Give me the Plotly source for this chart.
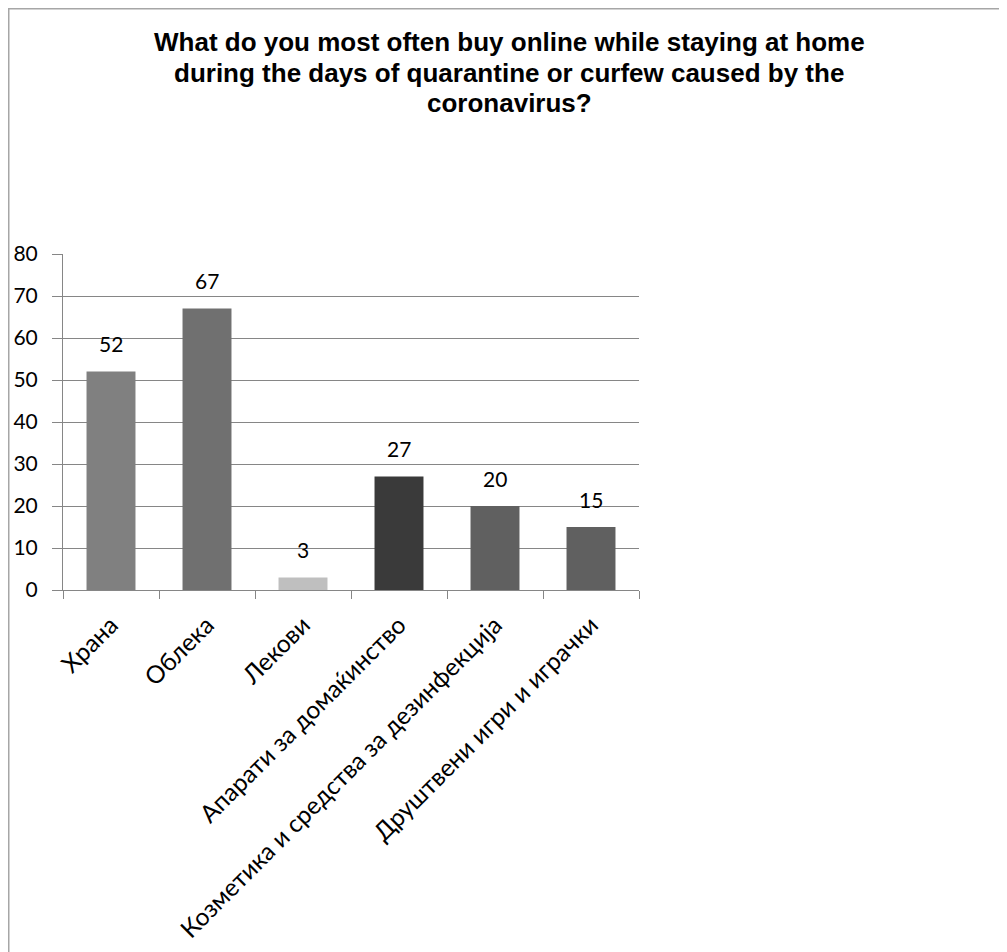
import plotly.graph_objects as go

categories = ["Храна", "Облека", "Лекови", "Апарати за домаќинство",
              "Козметика и средства за дезинфекција", "Друштвени игри и играчки"]
values = [52, 67, 3, 27, 20, 15]
bar_colors = ["#808080", "#707070", "#bfbfbf", "#3a3a3a", "#606060", "#606060"]
y_ticks = [0, 10, 20, 30, 40, 50, 60, 70, 80]

title_lines = ["What do you most often buy online while staying at home",
               "during the days of quarantine or curfew caused by the",
               "coronavirus?"]

OFF = 8  # page body margin
W, H = 1007, 952
L, R, T, B = 63 - OFF, 639 - OFF, 254 - OFF, 590 - OFF
pw, ph = R - L, B - T

fig = go.Figure()
fig.add_trace(go.Bar(
    x=categories, y=values, marker=dict(color=bar_colors, line=dict(width=0)),
    width=0.51, hoverinfo="x+y", showlegend=False,
))

for c, v in zip(categories, values):
    fig.add_annotation(x=c, y=v, text=str(v), showarrow=False, yanchor="middle",
                       yshift=28, font=dict(family="Lato", size=21, color="#000000"))

# title, one annotation per line for tight line spacing
for i, line in enumerate(title_lines):
    cy = 42 + 30.5 * i - OFF
    fig.add_annotation(xref="paper", yref="paper", x=(509 - OFF - L) / pw, y=(B - cy) / ph,
                       xanchor="center", yanchor="middle", text="<b>" + line + "</b>",
                       showarrow=False, borderpad=0,
                       font=dict(family="Liberation Sans", size=26, color="#000000"))

# chart border
fig.add_shape(type="rect", xref="paper", yref="paper",
              x0=(0.75 - L) / pw, x1=(W + 20 - L) / pw,
              y0=(B - (H + 20)) / ph, y1=(B - 0.75) / ph,
              line=dict(color="#a6a6a6", width=1.5), fillcolor="rgba(0,0,0,0)", layer="below")

fig.update_layout(
    width=W, height=H,
    margin=dict(l=L, r=W - R, t=T, b=H - B, autoexpand=False),
    paper_bgcolor="#ffffff", plot_bgcolor="#ffffff",
    bargap=0.49,
    xaxis=dict(type="category", tickangle=-45, showgrid=False, showline=True,
               linecolor="#868686", linewidth=1, ticks="outside", ticklen=8,
               tickcolor="#868686", tickson="boundaries", ticklabelstandoff=10,
               tickfont=dict(family="Lato", size=24.5, color="#000000")),
    yaxis=dict(range=[0, 80], tickvals=y_ticks, showgrid=True, gridcolor="#868686",
               gridwidth=1, zeroline=False, showline=True, linecolor="#868686",
               linewidth=1, ticks="outside", ticklen=10, tickcolor="#868686",
               ticklabelstandoff=10,
               tickfont=dict(family="Lato", size=21, color="#000000")),
)

fig.write_html("out.html")
